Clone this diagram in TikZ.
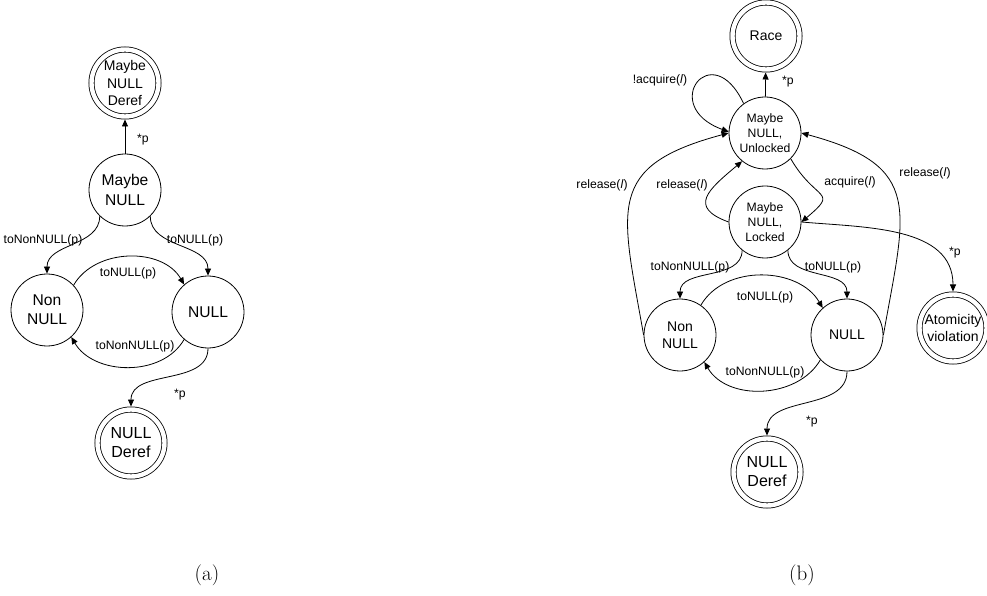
\documentclass[tikz,border=0pt]{standalone}
\usepackage{fontspec}
\usepackage{tikz}
\usetikzlibrary{arrows.meta}
\newfontfamily\diagfont{Liberation Sans}
\newcommand{\fbig}{\diagfont\fontsize{15.6}{19.4}\selectfont}
\newcommand{\fdrf}{\diagfont\fontsize{16}{19}\selectfont}
\newcommand{\fmid}{\diagfont\fontsize{14}{17.3}\selectfont}
\newcommand{\fsml}{\diagfont\fontsize{12.2}{15}\selectfont}
\tikzset{
  statenode/.style={draw, circle, line width=0.8pt, minimum size=72pt, inner sep=0pt, align=center},
  acceptnode/.style={draw, circle, line width=0.8pt, double, double distance=4.4pt, minimum size=67pt, inner sep=0pt, outer sep=3pt, align=center},
  trans/.style={line width=0.8pt, -{Triangle[length=7pt,width=6pt]}},
  lbl/.style={font=\fsml, inner sep=0pt}
}

\begin{document}
\begin{tikzpicture}[x=1pt, y=1pt]
    \useasboundingbox (0,0) rectangle (987,595);

    % (a) states
    \node [acceptnode, font=\fmid] (mnd) at (125,512) {Maybe\\NULL\\Deref};
    \node [statenode, font=\fbig] (mn) at (125,405) {Maybe\\NULL};
    \node [statenode, font=\fbig] (nn) at (47,285) {Non\\NULL};
    \node [statenode, font=\fbig] (nl) at (208,283) {NULL};
    \node [acceptnode, font=\fdrf] (nd) at (131,152) {NULL\\Deref};

    % (a) transitions
    \draw [trans] (mn) -- (mnd);
    \draw [trans] (mn.226) to[out=-90, in=90] (nn.north);
    \draw [trans] (mn.-46) to[out=-90, in=90] (nl.north);
    \draw [trans] (nn.43) to[out=60, in=120] (nl.131);
    \draw [trans] (nl.229) to[out=-120, in=-60] (nn.312);
    \draw [trans] (nl.south) to[out=-90, in=90] (nd.north);

    % (a) labels
    \node [lbl] (la1) at (143,455) {*p};
    \node [lbl] (la2) at (43,355) {toNonNULL(p)};
    \node [lbl] (la3) at (195,355) {toNULL(p)};
    \node [lbl] (la4) at (128,322) {toNULL(p)};
    \node [lbl] (la5) at (135,249) {toNonNULL(p)};
    \node [lbl] (la6) at (180,200) {*p};

    % (b) states
    \node [acceptnode, font=\fmid] (race) at (766,559) {Race};
    \node [statenode, font=\fsml] (ul) at (765,462) {Maybe\\NULL,\\Unlocked};
    \node [statenode, font=\fsml] (lk) at (765,373) {Maybe\\NULL,\\Locked};
    \node [statenode, font=\fmid] (rnn) at (680,260) {Non\\NULL};
    \node [statenode, font=\fmid] (rnl) at (847,260) {NULL};
    \node [acceptnode, font=\fmid] (av) at (953,267) {Atomicity\\violation};
    \node [acceptnode, font=\fdrf] (rnd) at (767,123) {NULL\\Deref};

    % (b) transitions
    \draw [trans] (ul) -- (race);
    \draw [trans] (ul.126) to[out=115, in=160, looseness=6] (ul.178); % self loop
    \draw [trans] (ul.-45) to[out=-60, in=40, looseness=2] (lk.east);
    \draw [trans] (lk.west) to[out=160, in=220, looseness=1.8] (ul.231);
    \draw [trans] (rnn.west) to[out=100, in=195, looseness=1.5] (ul.west);
    \draw [trans] (rnl.east) to[out=80, in=-15, looseness=1.5] (ul.east);
    \draw [trans] (lk.231) to[out=-90, in=90] (rnn.north);
    \draw [trans] (lk.-51) to[out=-90, in=90] (rnl.north);
    \draw [trans] (rnn.55) to[out=60, in=120] (rnl.132);
    \draw [trans] (rnl.223) to[out=-120, in=-60] (rnn.-48);
    \draw [trans] (rnl.south) to[out=-90, in=90] (rnd.north);
    \draw [trans] (lk.east) to[out=-5, in=90] (av.north);

    % (b) labels
    \node [lbl] (lb1) at (788,513) {*p};
    \node [lbl] (lb2) at (660,515) {!acquire(\textit{l})};
    \node [lbl] (lb3) at (850,413) {acquire(\textit{l})};
    \node [lbl] (lb4) at (682,410) {release(\textit{l})};
    \node [lbl] (lb5) at (602,410) {release(\textit{l})};
    \node [lbl] (lb6) at (925,422) {release(\textit{l})};
    \node [lbl] (lb7) at (690,328) {toNonNULL(p)};
    \node [lbl] (lb8) at (833,328) {toNULL(p)};
    \node [lbl] (lb9) at (765,298) {toNULL(p)};
    \node [lbl] (lb10) at (765,223) {toNonNULL(p)};
    \node [lbl] (lb11) at (955,342) {*p};
    \node [lbl] (lb12) at (812,173) {*p};

    % captions
    \node [font=\fontsize{21}{25}\selectfont] (capa) at (207,20) {(a)};
    \node [font=\fontsize{21}{25}\selectfont] (capb) at (802,20) {(b)};
\end{tikzpicture}
\end{document}
